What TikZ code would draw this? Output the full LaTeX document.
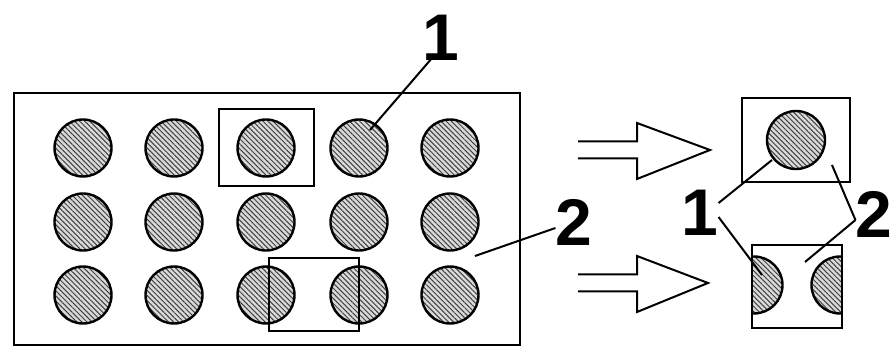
\documentclass[tikz,border=0pt]{standalone}
\usepackage{fontspec}
\setmainfont{Liberation Sans}
\usetikzlibrary{patterns.meta}

\begin{document}
\begin{tikzpicture}[
    x=1pt, y=-1pt,
    frame/.style={draw, line width=2.6pt},
    cell/.style={draw, line width=2.2pt},
    rod/.style={circle, draw, line width=2.4pt, minimum size=57pt, inner sep=0pt,
                preaction={fill=gray!30},
                pattern={Lines[angle=-45, distance=3.6pt, line width=1pt]},
                pattern color=black!75},
    num/.style={font=\fontsize{66}{66}\selectfont\bfseries, inner sep=0pt},
    lead/.style={line width=2pt},
    hollow/.style={line width=2pt, line join=miter},
]
\clip (0,0) rectangle (892,347);

%% -- plate with the grid of rods ---------------------------------------------
\draw[frame] (14,93) rectangle (520,345);
\node[inner sep=0pt] (plate) at (267,219) {};

\foreach \i/\y in {1/148, 2/222, 3/295}
  \foreach \j/\x in {1/83, 2/174, 3/266, 4/359, 5/450}
    \node[rod] (c-\i-\j) at (\x,\y) {};

% the two unit cells marked on the plate
\draw[cell] (219,109) rectangle (314,186);
\draw[cell] (269,258) rectangle (359,331);

% labels on the plate
\node[num] (lbl1) at (441,38) {1};
\node[num] (lbl2) at (574,222) {2};
\coordinate (p1) at (370,130);
\coordinate (p2) at (475,256);
\draw[lead] ([xshift=-8pt,yshift=4pt]lbl1.south) -- (p1);
\draw[lead] ([yshift=-6pt]lbl2.west) -- (p2);

%% -- hollow arrows ------------------------------------------------------------
\foreach \y/\t in {150/710, 283/708}
  \draw[hollow] (578,\y-8.5) -- (637,\y-8.5) -- (637,\y-27) -- (\t,\y)
                -- (637,\y+29) -- (637,\y+8.5) -- (578,\y+8.5);

%% -- the two unit cells, drawn apart -----------------------------------------
\node[rod, minimum size=58pt] (uc) at (796,140) {};
\draw[cell] (742,98) rectangle (850,182);

\begin{scope}
  \clip (752,245) rectangle (842,328);
  \node[rod] (hl) at (754,285) {};
  \node[rod] (hr) at (840,285) {};
\end{scope}
\draw[cell] (752,245) rectangle (842,328);

% labels of the cells
\node[num] (rlbl1) at (700,213) {1};
\node[num] (rlbl2) at (874,214) {2};
\coordinate (q1) at (772,160);
\coordinate (q2) at (762,275);
\coordinate (r1) at (832,165);
\coordinate (r2) at (805,262);
\draw[lead] ([yshift=10pt]rlbl1.east) -- (q1);
\draw[lead] ([yshift=-4pt]rlbl1.east) -- (q2);
\draw[lead] ([yshift=-6pt]rlbl2.west) -- (r1);
\draw[lead] ([yshift=-6pt]rlbl2.west) -- (r2);

\end{tikzpicture}
\end{document}
